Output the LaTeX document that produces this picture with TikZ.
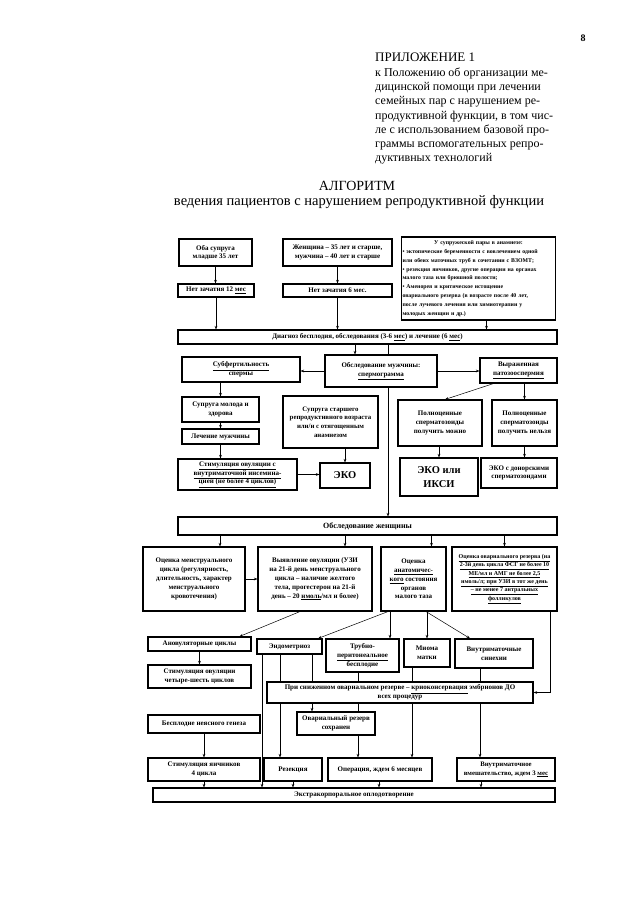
\documentclass[tikz,border=0pt]{standalone}
\usepackage{fontspec}
\setmainfont{Liberation Serif}
\newcommand{\uline}[1]{\underline{#1}}
\usetikzlibrary{arrows.meta,positioning}
\tikzset{box/.style={draw,line width=1.1pt,fill=white,align=center,inner sep=1pt,
        font=\fontsize{7}{8.8}\selectfont\bfseries},
    bigbox/.style={box,font=\fontsize{10.5}{14}\selectfont\bfseries},
    smallbox/.style={box,font=\fontsize{6}{8.3}\selectfont\bfseries},
    arr/.style={-{Stealth[length=3.5pt,width=2.6pt]},line width=0.5pt},
    link/.style={line width=0.5pt}
}

\begin{document}
\begin{tikzpicture}[x=1pt,y=-1pt]

\fill [white] (0,0) rectangle (640,905);
\useasboundingbox (0,0) rectangle (640,905);

%% heading
\node (pageNo) at (583,38) [font=\fontsize{10}{12}\selectfont\bfseries] {8};
\node (appendix) at (375,53) [anchor=north west,align=left,inner sep=0pt,font=\fontsize{12}{14.3}\selectfont]
    {{\fontsize{13}{14.3}\selectfont ПРИЛОЖЕНИЕ 1}\\к Положению об организации ме-\\дицинской помощи при лечении\\
     семейных пар с нарушением ре-\\продуктивной функции, в том чис-\\ле с использованием базовой про-\\
     граммы вспомогательных репро-\\дуктивных технологий};
\node (algTitle) at (357,186) [font=\fontsize{14}{16}\selectfont] {АЛГОРИТМ};
\node (algSub) at (359,202) [font=\fontsize{14.5}{16}\selectfont] {ведения пациентов с нарушением репродуктивной функции};

%% couple and diagnosis
\node (bothYoung) at (215.5,252.5) [box,minimum width=73pt,minimum height=27pt] {Оба супруга\\младше 35 лет};
\node (olderPair) at (337.5,252.5) [box,minimum width=109pt,minimum height=27pt] {Женщина – 35 лет и старше,\\мужчина – 40 лет и старше};
\node (history) at (478.5,278.5) [box,font=\fontsize{5.8}{8.8}\selectfont\bfseries,align=left,text width=152pt,minimum height=83pt]
    {\makebox[\linewidth][c]{У супружеской пары в анамнезе:}\\
     • эктопические беременности с вовлечением одной\\или обеих маточных труб в сочетании с ВЗОМТ;\\
     • резекция яичников, другие операции на органах\\малого таза или брюшной полости;\\
     • Аменорея и критическое истощение\\овариального резерва (в возрасте после 40 лет,\\
     после лучевого лечения или химиотерапии у\\молодых женщин и др.)};
\node (noConc12) at (216,290.5) [box,minimum width=76pt,minimum height=13pt] {Нет зачатия 12 \uline{мес}};
\node (noConc6) at (337.5,290.5) [box,minimum width=109pt,minimum height=13pt] {Нет зачатия 6 мес.};
\node (diagnosis) at (367.5,337) [box,minimum width=379pt,minimum height=14pt]
    {Диагноз бесплодия, обследования (3-6 \uline{мес}) и лечение (6 \uline{мес})};

\draw [arr] (bothYoung.south) -- (bothYoung.south |- noConc12.north);
\draw [arr] (olderPair.south) -- (noConc6.north);
\draw [arr] (noConc12.south) -- (noConc12.south |- diagnosis.north);
\draw [arr] (noConc6.south) -- (noConc6.south |- diagnosis.north);
\draw [arr] ([xshift=8pt]history.south) -- ([xshift=8pt]history.south |- diagnosis.north);

%% man
\node (subfert) at (241,369.5) [box,minimum width=118pt,minimum height=25pt] {\uline{Субфертильность}\\спермы};
\node (manExam) at (381,371) [box,minimum width=112pt,minimum height=32pt] {Обследование мужчины:\\\uline{спермограмма}};
\node (patho) at (518.5,370.5) [box,minimum width=77pt,minimum height=25pt] {Выраженная\\\uline{патозооспермия}};
\node (wifeYoung) at (220.5,409.5) [box,minimum width=77pt,minimum height=25pt] {Супруга молода и\\здорова};
\node (wifeOlder) at (330.5,422) [box,font=\fontsize{6.8}{8.8}\selectfont\bfseries,minimum width=95pt,minimum height=52pt]
    {Супруга старшего\\репродуктивного возраста\\или/и с отягощенным\\анамнезом};
\node (spermYes) at (440,423) [box,minimum width=84pt,minimum height=46pt] {Полноценные\\сперматозоиды\\получить можно};
\node (spermNo) at (524.5,423) [box,minimum width=65pt,minimum height=46pt] {Полноценные\\сперматозоиды\\получить нельзя};
\node (manTreat) at (220.5,436.5) [box,minimum width=77pt,minimum height=15pt] {Лечение мужчины};
\node (stimIUI) at (237.5,474.5) [box,minimum width=119pt,minimum height=31pt]
    {\uline{Стимуляция овуляции с}\\\uline{внутриматочной инсемина-}\\\uline{цией (не более 4 циклов)}};
\node (ivf) at (345,475.5) [bigbox,minimum width=50pt,minimum height=25pt] {ЭКО};
\node (ivfIcsi) at (439,477) [bigbox,minimum width=78pt,minimum height=38pt] {ЭКО или\\ИКСИ};
\node (ivfDonor) at (519,473) [box,minimum width=76pt,minimum height=30pt] {ЭКО с донорскими\\сперматозоидами};

\draw [arr] ([xshift=-12.5pt]diagnosis.south) -- ([xshift=-12.5pt]diagnosis.south |- manExam.north);
\draw [link] ([xshift=20.5pt]diagnosis.south) -- ([xshift=20.5pt]diagnosis.south |- manExam.north);
\draw [arr] (manExam.west) -- (manExam.west -| subfert.east);
\draw [arr] (manExam.east) -- (manExam.east -| patho.west);
\draw [arr] (wifeYoung.north |- subfert.south) -- (wifeYoung.north);
\draw [arr] (wifeYoung.south) -- (manTreat.north);
\draw [arr] (manTreat.south) -- (manTreat.south |- stimIUI.north);
\draw [arr] (stimIUI.east) -- (stimIUI.east -| ivf.west);
\draw [arr] (ivf.north |- wifeOlder.south) -- (ivf.north);
\draw [arr] ([xshift=-25pt]patho.south) -- ([xshift=5pt]spermYes.north);
\draw [arr] (spermNo.north |- patho.south) -- (spermNo.north);
\draw [arr] (ivfIcsi.north |- spermYes.south) -- (ivfIcsi.north);
\draw [arr] (spermNo.south) -- (spermNo.south |- ivfDonor.north);

%% woman
\node (womanExam) at (367.5,526) [box,font=\fontsize{8}{10}\selectfont\bfseries,minimum width=379pt,minimum height=18pt] {Обследование женщины};
\node (cycle) at (194,579) [box,minimum width=102pt,minimum height=64pt]
    {Оценка менструального\\цикла (регулярность,\\длительность, характер\\менструального\\кровотечения)};
\node (ovul) at (315,579) [box,minimum width=114pt,minimum height=64pt]
    {Выявление овуляции (УЗИ\\на 21-й день менструального\\цикла – наличие желтого\\тела, прогестерон  на 21-й\\день – 20 \uline{нмоль}/мл и более)};
\node (anat) at (413.5,579) [box,minimum width=65pt,minimum height=64pt]
    {Оценка\\\uline{анатомичес-}\\\uline{кого} состояния\\органов\\малого таза};
\node (reserve) at (504.5,579) [smallbox,minimum width=105pt,minimum height=64pt]
    {\uline{Оценка овариального резерва (на}\\\uline{2-3й день цикла ФСГ не более 10}\\\uline{МЕ/мл и АМГ не более 2,5}\\
     \uline{нмоль/л; при УЗИ в тот же день}\\\uline{– не менее 7 антральных}\\\uline{фолликулов}};

\draw [arr] ([xshift=7pt]manExam.south) -- ([xshift=7pt]manExam.south |- womanExam.north);
\draw [arr] ([xshift=26pt]cycle.north |- womanExam.south) -- ([xshift=26pt]cycle.north);
\draw [arr] ([xshift=30pt]ovul.north |- womanExam.south) -- ([xshift=30pt]ovul.north);
\draw [arr] ([xshift=18pt]anat.north |- womanExam.south) -- ([xshift=18pt]anat.north);
\draw [arr] (reserve.north |- womanExam.south) -- (reserve.north);
\draw [arr] (cycle.east) -- (ovul.west);

%% diagnoses of the woman
\node (anov) at (199.5,644) [box,minimum width=103pt,minimum height=14pt] {Ановуляторные циклы};
\node (endo) at (289.5,646.5) [box,minimum width=65pt,minimum height=15pt] {Эндометриоз};
\node (tubal) at (362.5,655.5) [box,minimum width=73pt,minimum height=33pt] {Трубно-\\\uline{перитонеальное}\\бесплодие};
\node (myoma) at (427,653) [box,minimum width=46pt,minimum height=28pt] {Миома\\матки};
\node (synech) at (494,653.5) [box,minimum width=78pt,minimum height=29pt] {Внутриматочные\\синехии};
\node (stimOv) at (199.5,676.5) [box,minimum width=103pt,minimum height=23pt] {Стимуляция овуляции\\четыре-шесть циклов};
\node (cryo) at (400,692.5) [box,minimum width=266pt,minimum height=21pt]
    {При сниженном овариальном резерве – \uline{криоконсервация} эмбрионов ДО\\всех процедур};
\node (unexpl) at (204,724) [box,minimum width=112pt,minimum height=18pt] {Бесплодие неясного генеза};
\node (resKept) at (336,723.5) [box,minimum width=78pt,minimum height=23pt] {Овариальный резерв\\сохранен};
\node (stimOvar) at (204,769.5) [box,minimum width=112pt,minimum height=23pt] {Стимуляция яичников\\4 цикла};
\node (resection) at (293,769.5) [box,minimum width=58pt,minimum height=23pt] {Резекция};
\node (surgery) at (380,769.5) [box,minimum width=104pt,minimum height=23pt] {Операция, ждем 6 месяцев};
\node (intraut) at (506,769.5) [box,font=\fontsize{6.8}{8.8}\selectfont\bfseries,minimum width=98pt,minimum height=23pt]
    {Внутриматочное\\вмешательство, ждем 3 \uline{мес}};
\node (ivfBar) at (354,795) [box,minimum width=402pt,minimum height=14pt] {Экстракорпоральное оплодотворение};

\draw [arr] ([xshift=-15pt]ovul.south) -- ([xshift=40pt]anov.north);
\draw [arr] ([xshift=-25.5pt]anat.south) -- ([xshift=28.5pt]endo.north);
\draw [arr] ([xshift=27.5pt]tubal.north |- anat.south) -- ([xshift=27.5pt]tubal.north);
\draw [arr] (myoma.north |- anat.south) -- (myoma.north);
\draw [arr] ([xshift=12.5pt]anat.south) -- ([xshift=-24pt]synech.north);
\draw [arr] ([xshift=-7pt]reserve.south east) |- (cryo.east);
\draw [arr] (anov.south) -- (anov.south |- stimOv.north);

% lines through the cryopreservation box
\draw [arr] ([xshift=-27.5pt]endo.south) -- ([xshift=-27.5pt]endo.south |- ivfBar.north);
\foreach \dx/\src in {-9.5/endo, 22.5/endo, -4.5/tubal, -15/myoma, -14/synech}
    \draw [link] ([xshift=\dx pt]\src.south) -- ([xshift=\dx pt]\src.south |- cryo.north);
\draw [arr] ([xshift=-13pt]resection.north |- cryo.south) -- ([xshift=-13pt]resection.north);
\draw [arr] ([xshift=-24pt]resKept.north |- cryo.south) -- ([xshift=-24pt]resKept.north);
\draw [link] ([xshift=22pt]resKept.north |- cryo.south) -- ([xshift=22pt]resKept.north);
\draw [arr] ([xshift=22pt]resKept.south) -- ([xshift=22pt]resKept.south |- surgery.north);
\draw [arr] ([xshift=32pt]surgery.north |- cryo.south) -- ([xshift=32pt]surgery.north);
\draw [arr] ([xshift=-26pt]intraut.north |- cryo.south) -- ([xshift=-26pt]intraut.north);
\draw [arr] (unexpl.south) -- (stimOvar.north);
\foreach \src/\dx in {stimOvar/0, resection/0, surgery/-1, intraut/-25}
    \draw [arr] ([xshift=\dx pt]\src.south) -- ([xshift=\dx pt]\src.south |- ivfBar.north);

\end{tikzpicture}
\end{document}
